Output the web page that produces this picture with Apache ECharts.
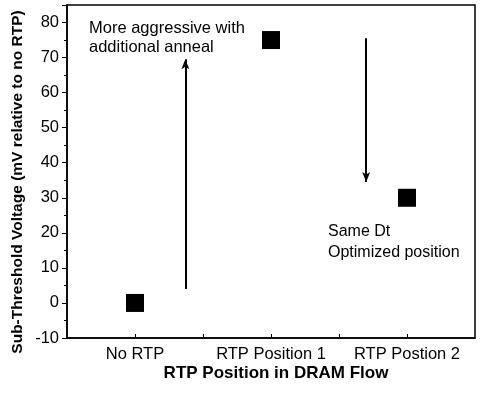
<!DOCTYPE html>
<html><head><meta charset="utf-8">
<script src="https://cdn.jsdelivr.net/npm/echarts@6/dist/echarts.min.js"></script>
<style>html,body{margin:0;padding:0;background:#fff}#c{width:480px;height:393px}</style>
</head><body><div id="c"></div>
<script>
var categories = ['No RTP', 'RTP Position 1', 'RTP Postion 2'];
var positions = [1, 2, 3];
var values = [0, 75, 30];
var yTicks = [-10, 0, 10, 20, 30, 40, 50, 60, 70, 80];
var arrowUp = [[1.37, 4], [1.37, 69.5]];
var arrowDown = [[2.70, 75.5], [2.70, 34.5]];
var annotationUp = ['More aggressive with', 'additional anneal'];
var annotationDown = ['Same Dt', 'Optimized position'];
var xTitle = 'RTP Position in DRAM Flow';
var yTitle = 'Sub-Threshold Voltage (mV relative to no RTP)';

var FONT = '"Liberation Sans", Arial, Helvetica, sans-serif';
var chart = echarts.init(document.getElementById('c'));
chart.setOption({
  animation: false,
  backgroundColor: '#fff',
  grid: { left: 67, right: 5, top: 5, bottom: 55, show: true, borderColor: '#000', borderWidth: 1.5 },
  xAxis: {
    type: 'value', min: 0.5, max: 3.5, interval: 0.5,
    axisLine: { show: true, onZero: false, lineStyle: { color: '#000', width: 1.5 } },
    axisTick: { show: true, inside: true, length: 4, lineStyle: { color: '#000', width: 1 } },
    splitLine: { show: false },
    axisLabel: {
      color: '#000', fontFamily: FONT, fontSize: 16.5, margin: 8,
      showMinLabel: false, showMaxLabel: false,
      formatter: function (v) {
        var i = positions.indexOf(v);
        return i >= 0 ? categories[i] : '';
      }
    }
  },
  yAxis: {
    type: 'value', min: -10, max: 85, interval: 10,
    axisLine: { show: true, onZero: false, lineStyle: { color: '#000', width: 1.5 } },
    axisTick: { show: true, length: 5, lineStyle: { color: '#000', width: 1 } },
    minorTick: { show: true, splitNumber: 2, length: 3, lineStyle: { color: '#000', width: 1 } },
    splitLine: { show: false },
    axisLabel: {
      color: '#000', fontFamily: FONT, fontSize: 16.5, margin: 8,
      formatter: function (v) { return yTicks.indexOf(v) >= 0 ? String(v) : ''; }
    }
  },
  series: [{
    type: 'scatter',
    symbol: 'rect',
    symbolSize: 18,
    itemStyle: { color: '#000', opacity: 1 },
    data: positions.map(function (p, i) { return [p, values[i]]; }),
    markLine: {
      silent: true,
      symbol: ['none', 'arrow'],
      symbolSize: [6, 10],
      label: { show: false },
      lineStyle: { color: '#000', width: 2, type: 'solid', opacity: 1 },
      data: [
        [{ coord: arrowUp[0] }, { coord: arrowUp[1] }],
        [{ coord: arrowDown[0] }, { coord: arrowDown[1] }]
      ]
    }
  }],
  graphic: [
    { type: 'text', left: 89, top: 19, style: { text: annotationUp.join('\n'), font: '16.5px ' + FONT, fill: '#000', lineHeight: 19 } },
    { type: 'text', left: 328, top: 221, style: { text: annotationDown.join('\n'), font: '16px ' + FONT, fill: '#000', lineHeight: 21 } },
    { type: 'text', x: 276, y: 373.5, style: { text: xTitle, font: 'bold 17px ' + FONT, fill: '#000', align: 'center', verticalAlign: 'middle' } },
    { type: 'text', x: 18, y: 182, rotation: Math.PI / 2, style: { text: yTitle, font: 'bold 15.5px ' + FONT, fill: '#000', align: 'center', verticalAlign: 'middle' } }
  ]
});
</script>
</body></html>
